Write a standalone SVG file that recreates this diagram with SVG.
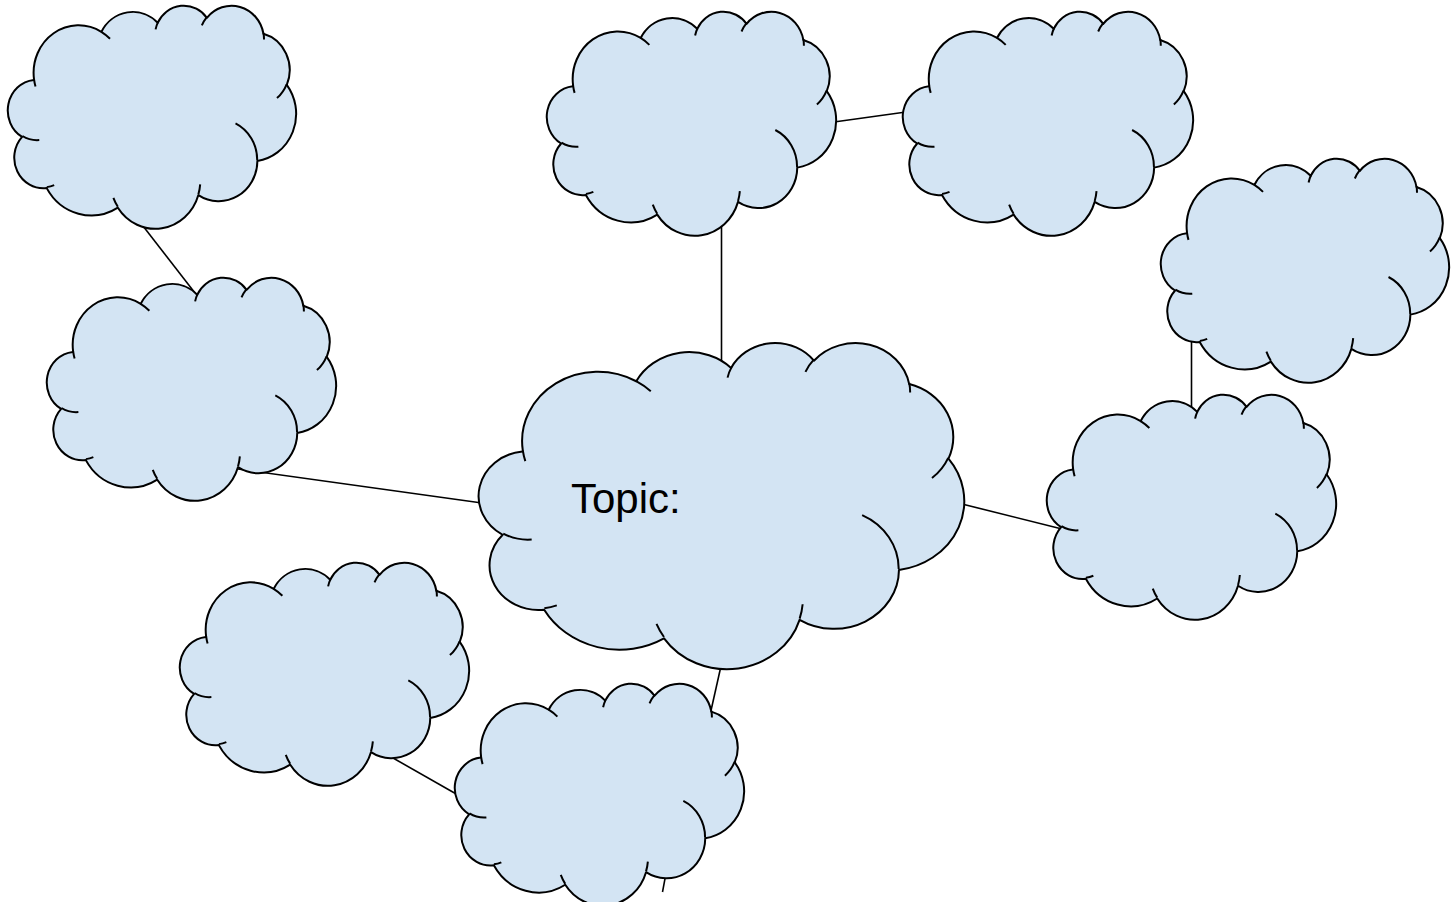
<svg xmlns="http://www.w3.org/2000/svg" xmlns:xlink="http://www.w3.org/1999/xlink" width="1456" height="902" viewBox="0 0 1456 902">
<style>
.cloud{fill:#d3e4f3;stroke:#000;stroke-width:2;vector-effect:non-scaling-stroke;stroke-linejoin:round}
.inner{fill:none;stroke:#000;stroke-width:2;vector-effect:non-scaling-stroke;stroke-linecap:butt}
.conn{stroke:#000;stroke-width:1.6;fill:none}
.label{font-family:"Liberation Sans",Arial,sans-serif;font-size:42px;fill:#000}
</style>
<defs>
<path id="cloudOutline" class="cloud" d="M 9.03 33.26 A 15.63 21.27 0 0 1 32.42 12.04 A 12.34 16.82 0 0 1 51.98 7.95 A 10.10 13.76 0 0 1 69.06 5.74 A 11.24 15.27 0 0 1 88.70 12.91 A 12.34 16.84 0 0 1 96.80 35.78 A 15.68 21.34 0 0 1 86.59 69.92 A 13.39 18.21 0 0 1 66.10 85.22 A 15.63 21.33 0 0 1 38.15 90.89 A 17.87 24.41 0 0 1 13.44 82.11 A 10.09 13.70 0 0 1 4.89 59.15 A 10.06 13.76 0 0 1 8.94 33.59 Z"/>
<path id="cloudInner" class="inner" d="M 10.86 60.59 A 10.06 13.76 0 0 1 5.00 58.75 M 16.04 80.78 A 10.09 13.70 0 0 1 13.47 81.67 M 38.14 90.49 A 15.63 21.33 0 0 1 36.60 86.46 M 66.73 80.44 A 15.63 21.33 0 0 1 66.11 84.86 M 79.00 53.13 A 13.39 18.21 0 0 1 86.53 69.65 M 96.75 35.54 A 12.34 16.84 0 0 1 93.40 41.74 M 88.71 12.56 A 11.24 15.27 0 0 1 88.89 15.49 M 67.31 9.15 A 11.24 15.27 0 0 1 69.03 5.41 M 51.25 10.93 A 10.10 13.76 0 0 1 52.08 7.71 M 32.41 12.02 A 15.63 21.27 0 0 1 35.42 15.14 M 9.55 36.55 A 15.63 21.27 0 0 1 9.03 33.27"/>
</defs>
<rect width="1456" height="902" fill="#fff"/>
<g id="connectors">
<line class="conn" x1="143" y1="226" x2="195" y2="293"/>
<line class="conn" x1="238" y1="469" x2="482" y2="503"/>
<line class="conn" x1="721.5" y1="226" x2="721.5" y2="364"/>
<line class="conn" x1="834" y1="122" x2="906" y2="112"/>
<line class="conn" x1="1191.5" y1="340" x2="1191.5" y2="410"/>
<line class="conn" x1="962" y1="504" x2="1062" y2="529"/>
<line class="conn" x1="721" y1="666" x2="710" y2="715"/>
<line class="conn" x1="386" y1="754" x2="458" y2="795"/>
<line class="conn" x1="665.5" y1="876" x2="662.5" y2="892"/>
</g>
<g id="cloud-top-left" transform="translate(8 5) scale(2.88 2.23)"><use href="#cloudOutline"/><use href="#cloudInner"/></g>
<g id="cloud-left" transform="translate(47 277) scale(2.89 2.23)"><use href="#cloudOutline"/><use href="#cloudInner"/></g>
<g id="cloud-top-center" transform="translate(547 11) scale(2.89 2.24)"><use href="#cloudOutline"/><use href="#cloudInner"/></g>
<g id="cloud-top-right" transform="translate(903 11) scale(2.90 2.24)"><use href="#cloudOutline"/><use href="#cloudInner"/></g>
<g id="cloud-right-upper" transform="translate(1161 158) scale(2.88 2.24)"><use href="#cloudOutline"/><use href="#cloudInner"/></g>
<g id="cloud-right" transform="translate(1047 394) scale(2.89 2.25)"><use href="#cloudOutline"/><use href="#cloudInner"/></g>
<g id="cloud-topic">
<g transform="translate(479 342) scale(4.85 3.26)"><use href="#cloudOutline"/><use href="#cloudInner"/></g>
<text class="label" x="571" y="513">Topic:</text>
</g>
<g id="cloud-bottom-left" transform="translate(180 562) scale(2.89 2.23)"><use href="#cloudOutline"/><use href="#cloudInner"/></g>
<g id="cloud-bottom-center" transform="translate(455 683) scale(2.89 2.22)"><use href="#cloudOutline"/><use href="#cloudInner"/></g>
</svg>
